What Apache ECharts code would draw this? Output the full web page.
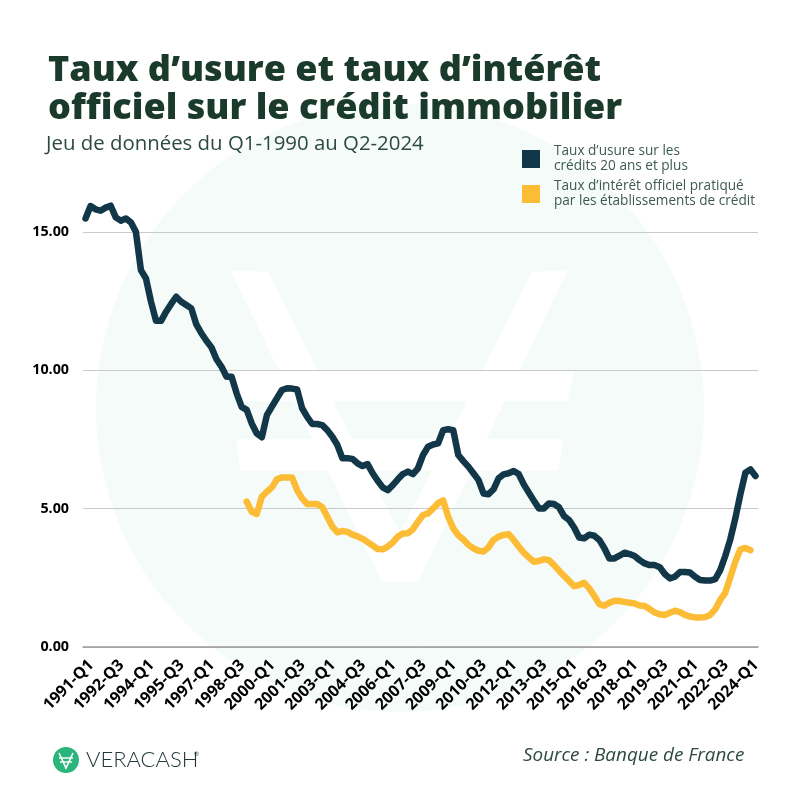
<!DOCTYPE html>
<html>
<head>
<meta charset="utf-8">
<style>html,body{margin:0;padding:0;background:#fff}#chart{width:800px;height:800px}</style>
<script src="https://cdn.jsdelivr.net/npm/echarts@6/dist/echarts.min.js"></script>
</head>
<body>
<div id="chart"></div>
<script>
// taux d'usure / taux officiel, par trimestre
var quarters = [
  '1991-Q1','1991-Q2','1991-Q3','1991-Q4','1992-Q1','1992-Q2','1992-Q3','1992-Q4',
  '1993-Q1','1993-Q2','1993-Q3','1993-Q4','1994-Q1','1994-Q2','1994-Q3','1994-Q4',
  '1995-Q1','1995-Q2','1995-Q3','1995-Q4','1996-Q1','1996-Q2','1996-Q3','1996-Q4',
  '1997-Q1','1997-Q2','1997-Q3','1997-Q4','1998-Q1','1998-Q2','1998-Q3','1998-Q4',
  '1999-Q1','1999-Q2','1999-Q3','1999-Q4','2000-Q1','2000-Q2','2000-Q3','2000-Q4',
  '2001-Q1','2001-Q2','2001-Q3','2001-Q4','2002-Q1','2002-Q2','2002-Q3','2002-Q4',
  '2003-Q1','2003-Q2','2003-Q3','2003-Q4','2004-Q1','2004-Q2','2004-Q3','2004-Q4',
  '2005-Q1','2005-Q2','2005-Q3','2005-Q4','2006-Q1','2006-Q2','2006-Q3','2006-Q4',
  '2007-Q1','2007-Q2','2007-Q3','2007-Q4','2008-Q1','2008-Q2','2008-Q3','2008-Q4',
  '2009-Q1','2009-Q2','2009-Q3','2009-Q4','2010-Q1','2010-Q2','2010-Q3','2010-Q4',
  '2011-Q1','2011-Q2','2011-Q3','2011-Q4','2012-Q1','2012-Q2','2012-Q3','2012-Q4',
  '2013-Q1','2013-Q2','2013-Q3','2013-Q4','2014-Q1','2014-Q2','2014-Q3','2014-Q4',
  '2015-Q1','2015-Q2','2015-Q3','2015-Q4','2016-Q1','2016-Q2','2016-Q3','2016-Q4',
  '2017-Q1','2017-Q2','2017-Q3','2017-Q4','2018-Q1','2018-Q2','2018-Q3','2018-Q4',
  '2019-Q1','2019-Q2','2019-Q3','2019-Q4','2020-Q1','2020-Q2','2020-Q3','2020-Q4',
  '2021-Q1','2021-Q2','2021-Q3','2021-Q4','2022-Q1','2022-Q2','2022-Q3','2022-Q4',
  '2023-Q1','2023-Q2','2023-Q3','2023-Q4','2024-Q1','2024-Q2'
];

var usure = [
  15.49,15.94,15.82,15.77,15.88,15.95,15.53,15.41,15.49,15.35,
  15.01,13.62,13.32,12.48,11.79,11.79,12.12,12.40,12.66,12.48,
  12.36,12.24,11.66,11.34,11.07,10.83,10.40,10.13,9.77,9.77,
  9.17,8.68,8.57,8.08,7.72,7.58,8.38,8.69,8.99,9.29,
  9.35,9.34,9.31,8.63,8.32,8.06,8.06,8.02,7.84,7.60,
  7.30,6.82,6.82,6.80,6.64,6.54,6.61,6.28,6.01,5.77,
  5.67,5.85,6.06,6.25,6.34,6.25,6.46,6.94,7.24,7.32,
  7.36,7.84,7.87,7.84,6.94,6.72,6.52,6.28,6.04,5.55,
  5.52,5.70,6.10,6.24,6.28,6.36,6.25,5.88,5.58,5.29,
  5.01,5.01,5.19,5.17,5.05,4.73,4.59,4.32,3.96,3.93,
  4.06,4.02,3.87,3.57,3.20,3.20,3.30,3.41,3.36,3.29,
  3.14,3.02,2.96,2.96,2.88,2.64,2.48,2.54,2.71,2.71,
  2.69,2.54,2.42,2.40,2.40,2.45,2.78,3.29,3.89,4.65,
  5.52,6.30,6.42,6.18
];

var officiel = [
  null,null,null,null,null,null,null,null,null,null,
  null,null,null,null,null,null,null,null,null,null,
  null,null,null,null,null,null,null,null,null,null,
  null,null,5.25,4.89,4.81,5.43,5.61,5.77,6.06,6.13,
  6.13,6.13,5.67,5.37,5.17,5.17,5.17,5.05,4.71,4.35,
  4.14,4.19,4.16,4.06,4.00,3.91,3.79,3.67,3.54,3.53,
  3.63,3.78,3.99,4.10,4.11,4.26,4.53,4.77,4.83,5.01,
  5.20,5.30,4.71,4.29,4.04,3.89,3.69,3.57,3.48,3.45,
  3.60,3.87,3.99,4.05,4.08,3.87,3.63,3.41,3.24,3.08,
  3.11,3.17,3.14,2.96,2.76,2.57,2.39,2.20,2.24,2.32,
  2.12,1.85,1.55,1.49,1.60,1.67,1.66,1.63,1.60,1.57,
  1.50,1.48,1.37,1.25,1.18,1.16,1.24,1.31,1.26,1.16,
  1.10,1.07,1.07,1.08,1.16,1.36,1.70,1.96,2.52,3.08,
  3.53,3.58,3.50,null
];

var usureName = 'Taux d’usure sur les\ncrédits 20 ans et plus';
var officielName = 'Taux d’intérêt officiel pratiqué\npar les établissements de crédit';

var myChart = echarts.init(document.getElementById('chart'));

var pale = '#f4fbf9';
var font = '"Open Sans"';

myChart.setOption({
  animation: false,
  backgroundColor: '#fff',
  title: [
    {
      text: 'Taux d’usure et taux d’intérêt\nofficiel sur le crédit immobilier',
      left: 43, top: 47,
      textStyle: { fontFamily: font, fontSize: 36, fontWeight: 800, color: '#1a3a2c', lineHeight: 38 }
    },
    {
      text: 'Jeu de données du Q1-1990 au Q2-2024',
      left: 41, top: 129,
      textStyle: { fontFamily: font, fontSize: 20.4, fontWeight: 400, color: '#2c4a40' }
    },
    {
      text: 'Source : Banque de France',
      left: 518, top: 741,
      textStyle: { fontFamily: font, fontSize: 18.9, fontWeight: 400, fontStyle: 'italic', color: '#2c4a40' }
    }
  ],
  legend: {
    orient: 'vertical',
    left: 517, top: 139,
    itemWidth: 18, itemHeight: 18, itemGap: 5,
    icon: 'rect',
    data: [usureName, officielName],
    textStyle: { fontFamily: font, fontSize: 13.6, color: '#3e5954', lineHeight: 15, padding: [0, 0, 0, 9] }
  },
  grid: { left: 83, right: 42, top: 176.67, bottom: 153 },
  xAxis: {
    type: 'category',
    data: quarters,
    boundaryGap: true,
    axisLine: { lineStyle: { color: '#999', width: 1.5 } },
    axisTick: { show: false },
    axisLabel: {
      interval: 5, rotate: 45, margin: 10, verticalAlign: 'top',
      color: '#000', fontFamily: font, fontWeight: 700, fontSize: 16
    }
  },
  yAxis: {
    type: 'value',
    min: 0, max: 17, interval: 5,
    axisLine: { show: false },
    axisTick: { show: false },
    splitLine: { showMaxLine: false, lineStyle: { color: '#c9c9c9', width: 1 } },
    axisLabel: {
      showMaxLabel: false, margin: 14,
      formatter: function (v) { return v.toFixed(2); },
      color: '#000', fontFamily: font, fontWeight: 700, fontSize: 14.3
    }
  },
  series: [
    {
      name: usureName, type: 'line', data: usure, showSymbol: false, clip: false,
      itemStyle: { color: '#123748' },
      lineStyle: { color: '#123748', width: 6.5, cap: 'round', join: 'round' }
    },
    {
      name: officielName, type: 'line', data: officiel, showSymbol: false, clip: false,
      itemStyle: { color: '#fdbc36' },
      lineStyle: { color: '#fdbc36', width: 6.5, cap: 'round', join: 'round' }
    }
  ],
  // filigrane + logo
  graphic: [
    { type: 'circle', z: -10, shape: { cx: 400, cy: 408, r: 304 }, style: { fill: pale } },
    { type: 'polygon', z: -9, shape: { points: [[230,270],[268,272],[400,533],[532,272],[568,270],[418,582],[382,582]] }, style: { fill: '#fff' } },
    { type: 'polygon', z: -9, shape: { points: [[232,370],[574,370],[568,401],[237,401]] }, style: { fill: '#fff' } },
    { type: 'polygon', z: -9, shape: { points: [[236,439],[564,439],[558,471],[240,471]] }, style: { fill: '#fff' } },
    { type: 'circle', shape: { cx: 66, cy: 760, r: 13 }, style: { fill: '#2ab57d' } },
    { type: 'polyline', shape: { points: [[59,753],[66,768],[73,753]] }, style: { stroke: '#fff', fill: 'none', lineWidth: 1.6 } },
    { type: 'line', shape: { x1: 59, y1: 758, x2: 73, y2: 758 }, style: { stroke: '#fff', lineWidth: 1.4 } },
    { type: 'line', shape: { x1: 60, y1: 762, x2: 72, y2: 762 }, style: { stroke: '#fff', lineWidth: 1.4 } },
    { type: 'text', left: 86, top: 749, style: { text: 'VERACASH', font: '300 22px Lato', fill: '#24383a' } },
    { type: 'text', left: 194, top: 751, style: { text: '®', font: '6px Lato', fill: '#24383a' } }
  ]
});
</script>
</body>
</html>
